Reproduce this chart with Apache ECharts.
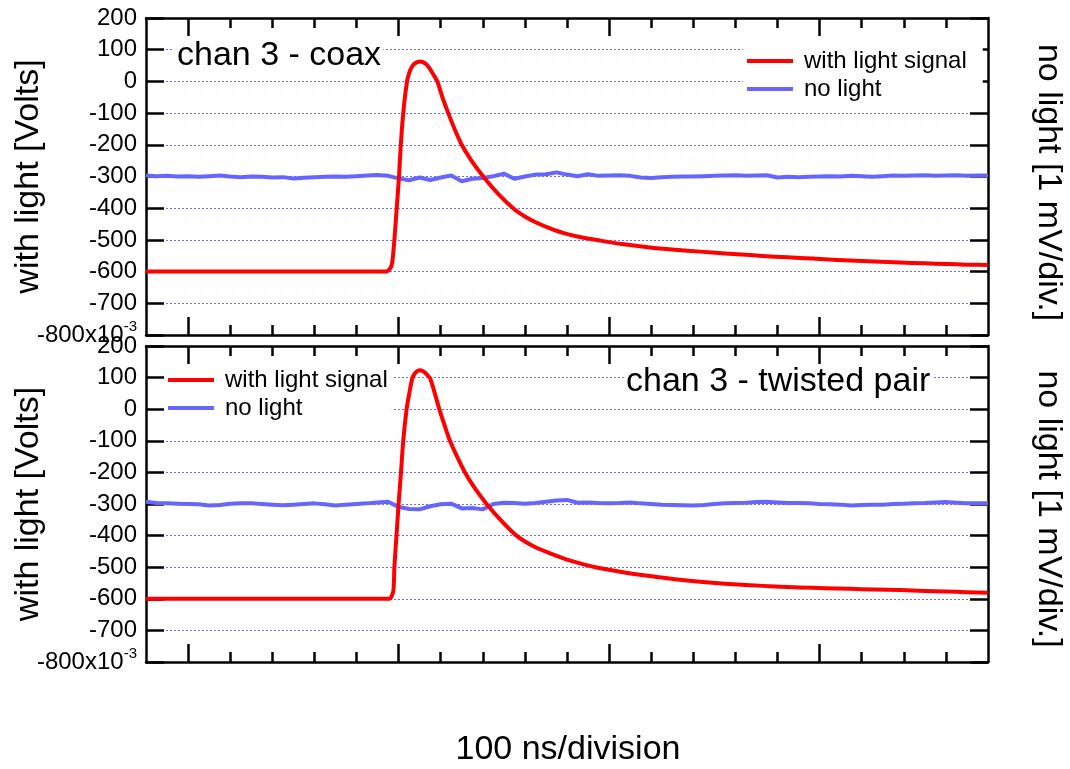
<!DOCTYPE html>
<html>
<head>
<meta charset="utf-8">
<title>chan 3 – coax vs twisted pair</title>
<script src="https://cdn.jsdelivr.net/npm/echarts@6/dist/echarts.min.js"></script>
<style>
  html, body { margin: 0; padding: 0; background: #fff; }
  #chart { width: 1070px; height: 769px; }
</style>
</head>
<body>
<div id="chart"></div>
<script>
// ---- data (time in ns, amplitude in mV-scale units of the left axis) ----
const yTicks = [-800, -700, -600, -500, -400, -300, -200, -100, 0, 100, 200];
const majorTickTimes = [0, 500, 1000, 1500];
const minorTickTimes = [100, 200, 300, 400, 600, 700, 800, 900, 1100, 1200, 1300, 1400, 1600, 1700, 1800];

// sample times of the "no light" traces
const sampleTimes = [
  -100, -75, -50, -25, 0, 25, 50, 75, 100, 125,
  150, 175, 200, 225, 250, 275, 300, 325, 350, 375,
  400, 425, 450, 475, 500, 525, 550, 575, 600, 625,
  650, 675, 700, 725, 750, 775, 800, 825, 850, 875,
  900, 925, 950, 975, 1000, 1025, 1050, 1075, 1100, 1125,
  1150, 1175, 1200, 1225, 1250, 1275, 1300, 1325, 1350, 1375,
  1400, 1425, 1450, 1475, 1500, 1525, 1550, 1575, 1600, 1625,
  1650, 1675, 1700, 1725, 1750, 1775, 1800, 1825, 1850, 1875,
  1900
];

const noLightCoax = [
  -297, -299, -298, -300, -299, -301, -299, -297, -300, -302,
  -300, -301, -303, -302, -306, -304, -302, -301, -300, -301,
  -299, -297, -295, -298, -306, -312, -303, -311, -303, -297,
  -315, -307, -305, -299, -291, -307, -300, -294, -293, -287,
  -294, -299, -293, -298, -297, -296, -298, -303, -305, -302,
  -301, -300, -300, -299, -298, -297, -296, -298, -297, -296,
  -303, -301, -302, -301, -300, -299, -300, -298, -299, -301,
  -299, -297, -298, -297, -296, -298, -297, -296, -298, -297,
  -297
];

const noLightTwisted = [
  -293, -297, -298, -299, -300, -301, -305, -303, -299, -298,
  -298, -300, -302, -304, -302, -300, -298, -301, -305, -302,
  -300, -298, -295, -293, -309, -316, -317, -307, -301, -299,
  -314, -313, -317, -300, -296, -297, -299, -297, -293, -289,
  -287, -296, -295, -297, -298, -297, -295, -298, -300, -302,
  -303, -304, -305, -303, -300, -298, -297, -296, -294, -293,
  -295, -297, -297, -298, -300, -301, -302, -305, -303, -302,
  -302, -300, -299, -298, -297, -295, -294, -296, -298, -298,
  -298
];

// "with light signal" pulses
const coaxTimes = [
  -100, 470, 480, 485, 490, 495.5, 501, 505, 511, 520,
  526, 531, 537, 544, 551, 558, 565, 572, 580, 592,
  604, 618, 633, 650, 673, 701, 736, 772, 800, 828,
  860, 890, 930, 978, 1030, 1097, 1156, 1216, 1275, 1335,
  1394, 1453, 1512, 1572, 1631, 1691, 1750, 1800, 1850, 1900
];
const coaxSignal = [
  -600, -600, -590, -570, -500, -400, -300, -205, -100, 0,
  30, 45, 55, 61, 63, 61, 55, 44, 27, 0,
  -50, -100, -150, -200, -250, -300, -354, -400, -426, -446,
  -464, -478, -491, -502, -513, -524, -531, -537, -543, -548,
  -553, -557, -561, -565, -568, -571, -574, -576, -578, -579
];

const twistedTimes = [
  -100, 478, 484, 488, 490, 495, 500, 505.7, 511, 519,
  526, 533, 539, 545, 551, 557, 563, 569, 575, 585,
  596.7, 609, 622, 639, 657.7, 681, 709, 742, 780, 818,
  860, 910, 970, 1030, 1097, 1156, 1216, 1275, 1335, 1394,
  1453, 1512, 1572, 1631, 1691, 1750, 1800, 1850, 1900
];
const twistedSignal = [
  -600, -600, -590, -570, -500, -400, -300, -200, -100, 0,
  55, 100, 114, 121, 123, 121, 115, 107, 97, 55,
  0, -50, -100, -150, -200, -250, -300, -350, -400, -432,
  -456, -480, -501, -515, -528, -538, -546, -552, -557, -561,
  -564, -566.5, -568.5, -570.5, -572.5, -575, -577, -579, -581
];

const seriesNames = ['with light signal', 'no light'];
const panelTitles = ['chan 3 - coax', 'chan 3 - twisted pair'];

// ---- helpers ----
const FONT = "'Liberation Sans', Arial, Helvetica, sans-serif";
const RED = '#ff0000';
const BLUE = '#6666ff';
const pairs = (xs, ys) => xs.map((x, i) => [x, ys[i]]);

const grids = [
  { left: 146, top: 18, width: 842, height: 317 },
  { left: 146, top: 346, width: 842, height: 316 }
];

const tickStyle = { color: '#000', width: 2.5 };

function xAxesFor(g) {
  const base = {
    gridIndex: g, type: 'value', min: -100, max: 1900,
    axisLabel: { show: false }, splitLine: { show: false }
  };
  const line = { show: true, onZero: false, lineStyle: { color: '#000', width: 2.5 } };
  const noLine = { show: false, onZero: false };
  return [
    Object.assign({}, base, { position: 'bottom', axisLine: line,
      axisTick: { show: true, inside: true, length: 18, customValues: majorTickTimes, lineStyle: tickStyle } }),
    Object.assign({}, base, { position: 'bottom', axisLine: noLine,
      axisTick: { show: true, inside: true, length: 10, customValues: minorTickTimes, lineStyle: tickStyle } }),
    Object.assign({}, base, { position: 'top', axisLine: line,
      axisTick: { show: true, inside: true, length: 18, customValues: majorTickTimes, lineStyle: tickStyle } }),
    Object.assign({}, base, { position: 'top', axisLine: noLine,
      axisTick: { show: true, inside: true, length: 10, customValues: minorTickTimes, lineStyle: tickStyle } })
  ];
}

function yAxesFor(g) {
  const base = {
    gridIndex: g, type: 'value', min: yTicks[0], max: yTicks[yTicks.length - 1], interval: 100,
    axisLine: { show: true, onZero: false, lineStyle: { color: '#000', width: 2.5 } },
    axisTick: { show: true, inside: true, length: 18, lineStyle: tickStyle }
  };
  return [
    Object.assign({}, base, {
      position: 'left',
      splitLine: { show: true, lineStyle: { color: '#6b6bff', width: 1, type: [2, 2] } },
      axisLabel: {
        show: true, margin: 9,
        formatter: v => v === -800 ? '{m|-800x10}{s|-3}' : '{m|' + v + '}',
        rich: {
          m: { fontFamily: FONT, fontSize: 24, color: '#000' },
          s: { fontFamily: FONT, fontSize: 15, color: '#000', padding: [0, 0, 16, 0] }
        }
      }
    }),
    Object.assign({}, base, {
      position: 'right', splitLine: { show: false }, axisLabel: { show: false }
    })
  ];
}

const xAxis = [].concat(xAxesFor(0), xAxesFor(1));
const yAxis = [].concat(yAxesFor(0), yAxesFor(1));

function panelSeries(g, sigT, sigV, noLight) {
  return [
    {
      name: seriesNames[1], type: 'line', xAxisIndex: g * 4, yAxisIndex: g * 2,
      data: pairs(sampleTimes, noLight), showSymbol: false, symbol: 'none',
      lineStyle: { color: BLUE, width: 4 }, itemStyle: { color: BLUE }, z: 2
    },
    {
      name: seriesNames[0], type: 'line', xAxisIndex: g * 4, yAxisIndex: g * 2,
      data: pairs(sigT, sigV), showSymbol: false, symbol: 'none',
      smooth: 0.25,
      lineStyle: { color: RED, width: 4, join: 'round' }, itemStyle: { color: RED }, z: 3
    }
  ];
}

const legendCommon = {
  orient: 'vertical', icon: 'rect', itemWidth: 46, itemHeight: 4, itemGap: 4,
  backgroundColor: '#fff', selectedMode: false,
  data: seriesNames,
  textStyle: { fontFamily: FONT, fontSize: 24, color: '#000', padding: [0, 0, 0, 6], lineHeight: 24 }
};

const option = {
  animation: false,
  backgroundColor: '#fff',
  grid: grids,
  xAxis: xAxis,
  yAxis: yAxis,
  legend: [
    Object.assign({}, legendCommon, { left: 743, top: 45, padding: [4, 16, 4, 4] }),
    Object.assign({}, legendCommon, { left: 164, top: 364, padding: [4, 4, 4, 4] })
  ],
  series: [].concat(
    panelSeries(0, coaxTimes, coaxSignal, noLightCoax),
    panelSeries(1, twistedTimes, twistedSignal, noLightTwisted)
  ),
  graphic: [
    { type: 'text', x: 173, y: 56, z: 10, style: { text: panelTitles[0], font: '34px ' + FONT, fill: '#000',
      textAlign: 'left', textVerticalAlign: 'middle', backgroundColor: '#fff', padding: [0, 2, 0, 4] } },
    { type: 'text', x: 624, y: 382, z: 10, style: { text: panelTitles[1], font: '34px ' + FONT, fill: '#000',
      textAlign: 'left', textVerticalAlign: 'middle', backgroundColor: '#fff', padding: [0, 2, 0, 2] } },
    { type: 'text', x: 29, y: 176.5, rotation: Math.PI / 2, style: { text: 'with light [Volts]', font: '34px ' + FONT,
      fill: '#000', textAlign: 'center', textVerticalAlign: 'middle' } },
    { type: 'text', x: 29, y: 504, rotation: Math.PI / 2, style: { text: 'with light [Volts]', font: '34px ' + FONT,
      fill: '#000', textAlign: 'center', textVerticalAlign: 'middle' } },
    { type: 'text', x: 1048, y: 182.5, rotation: -Math.PI / 2, style: { text: 'no light [1 mV/div.]', font: '34px ' + FONT,
      fill: '#000', textAlign: 'center', textVerticalAlign: 'middle' } },
    { type: 'text', x: 1048, y: 509, rotation: -Math.PI / 2, style: { text: 'no light [1 mV/div.]', font: '34px ' + FONT,
      fill: '#000', textAlign: 'center', textVerticalAlign: 'middle' } },
    { type: 'text', x: 568, y: 750, style: { text: '100 ns/division', font: '34px ' + FONT,
      fill: '#000', textAlign: 'center', textVerticalAlign: 'middle' } }
  ]
};

const chart = echarts.init(document.getElementById('chart'), null, { renderer: 'canvas' });
chart.setOption(option);
</script>
</body>
</html>
